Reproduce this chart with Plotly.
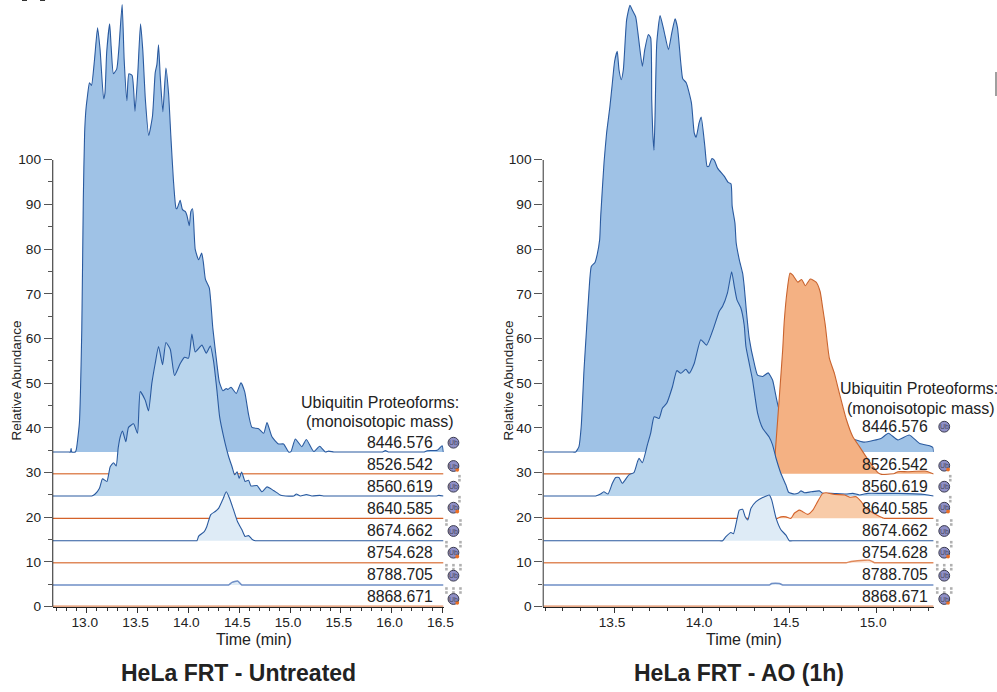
import plotly.graph_objects as go

W, H = 997, 692
PAGE_W, PAGE_H = 1008, 700
FONT = "Liberation Sans"
BLUE = "#2a5a9f"
ORANGE = "#d4622a"

# ---------- Untreated panel (time in min, offset relative abundance) ----------
L_8446_T = [12.647,12.8,12.822,12.828,12.834,12.87,12.88,12.91,12.934,12.949,12.962,12.975,12.99,13.01,13.03,13.06,13.09,13.115,13.15,13.163,13.18,13.21,13.224,13.247,13.28,13.3,13.333,13.353,13.38,13.4,13.432,13.46,13.488,13.515,13.537,13.563,13.596,13.633,13.66,13.677,13.693,13.71,13.736,13.766,13.792,13.815,13.84,13.865,13.875,13.907,13.93,13.957,13.974,13.997,14.013,14.03,14.056,14.09,14.12,14.137,14.157,14.195,14.23,14.27,14.294,14.33,14.363,14.38,14.41,14.462,14.508,14.545,14.584,14.617,14.683,14.733,14.766,14.815,14.88,14.93,14.98,15.003,15.046,15.11,15.155,15.228,15.287,15.343,15.376,15.426,15.46,15.87,15.904,15.937,15.97,16.0,16.29,16.317,16.35,16.449,16.498,16.51]
L_8446_Y = [34.6,34.6,34.6,35.4,34.6,34.6,35.2,41,62,91,106,111.2,114.2,117.2,116.6,122.4,129.5,124.6,113.6,114.8,123.9,130.4,125.4,119.2,120.3,124.6,134.7,122.4,113.2,119.2,118.8,110.8,119.4,130.4,124.6,113.4,105.4,109.7,119.4,121.3,125.7,118.6,110.7,120.5,114.9,105.2,95.5,89.2,89,90.9,88.8,88.4,87.5,85.2,88.4,89,79.9,77.6,79.1,76.9,73.2,71.3,62.3,54.4,50.3,48.3,48.8,48.6,49.1,47.7,50.1,48.1,42.9,40.1,39.8,38.8,41.2,38,36.4,36.4,34.6,34.7,37.5,35.8,37.4,34.7,35.9,34.6,34.8,34.6,34.6,34.6,34.6,34.9,34.6,34.6,34.6,34.6,34.9,35,36,34.6]
L_8560_T = [12.647,13.0,13.033,13.066,13.109,13.139,13.182,13.215,13.248,13.274,13.294,13.314,13.337,13.37,13.396,13.446,13.485,13.512,13.561,13.594,13.627,13.66,13.693,13.733,13.766,13.809,13.851,13.908,13.95,13.99,14.023,14.056,14.122,14.165,14.205,14.238,14.27,14.297,14.337,14.386,14.42,14.446,14.47,14.49,14.515,14.55,14.584,14.607,14.667,14.716,14.766,14.83,14.896,14.93,15.03,15.056,15.096,15.155,15.21,15.287,15.33,15.36,16.41,16.44,16.465,16.51]
L_8560_Y = [24.76,24.76,24.76,25.2,26.5,28.6,28,31.3,32.2,31.5,35.5,38,39.3,36.9,40.1,40.9,38.8,48.1,46.2,43.8,50,54.4,58.2,54.1,59.1,57.6,51.7,54.4,55.8,55.6,61,57,58.5,56.7,58.3,54.8,48.5,42.5,38,33.6,31.3,29.5,30.2,28.7,30.1,28,28.3,27,27.1,25.7,26.8,26,25,24.8,24.76,25.2,24.76,25.1,24.76,24.9,24.76,24.76,24.76,24.76,24.9,24.76]
L_8674_T = [12.647,14.04,14.073,14.09,14.145,14.17,14.21,14.254,14.287,14.327,14.363,14.396,14.436,14.475,14.518,14.55,14.584,14.617,14.65,14.68,16.51]
L_8674_Y = [14.76,14.76,14.76,15.8,16.8,17.9,20.6,21.3,22,23.9,25.7,24.2,21.6,19,17.2,15.7,15.9,15.1,14.76,14.76,14.76]
L_8788_T = [12.647,14.36,14.386,14.42,14.475,14.518,14.55,16.51]
L_8788_Y = [4.85,4.85,4.85,5.45,5.75,4.85,4.85,4.85]
L_FLAT_T = [12.647,16.51]

# ---------- AO (1h) panel ----------
R_8446_T = [13.088,13.25,13.274,13.293,13.306,13.322,13.337,13.35,13.364,13.385,13.398,13.412,13.418,13.437,13.452,13.471,13.485,13.498,13.513,13.523,13.536,13.548,13.567,13.586,13.6,13.619,13.632,13.657,13.671,13.692,13.705,13.711,13.717,13.724,13.73,13.74,13.759,13.782,13.807,13.826,13.845,13.859,13.878,13.889,13.909,13.939,13.955,13.966,13.983,13.995,14.016,14.029,14.039,14.056,14.07,14.089,14.127,14.15,14.166,14.173,14.189,14.196,14.214,14.233,14.242,14.254,14.271,14.3,14.319,14.348,14.38,14.405,14.444,14.5,14.6,14.7,14.8,14.885,14.933,15.03,15.07,15.125,15.19,15.25,15.307,15.326,15.33]
R_8446_Y = [34.6,34.6,34.6,35.8,40.3,52.9,62.3,70.2,76.1,77,78.8,82.1,87.3,99.3,106,111.9,117.2,122,124.2,120.1,117.9,120.1,131.3,134.5,133.4,131.9,128.3,120.9,124.6,128,127.2,113.4,106,102.1,109.7,126.1,132.2,128.7,124.6,128.3,131.5,129.5,121.6,118.1,117.2,112.7,106,105,108.2,109.5,103,98.5,98.5,100.2,99.9,98.1,96.3,94.9,94.6,89.6,85.8,81.4,77.6,74.6,71.7,66.4,60,54.4,51.8,51.5,52.3,50.7,44,42,40,39,38,37.3,36.8,37.7,38.8,37.3,38.4,36.5,36,35.6,34.6]
R_8526_T = [13.088,14.38,14.41,14.42,14.444,14.463,14.472,14.488,14.505,14.52,14.55,14.572,14.593,14.622,14.655,14.678,14.693,14.707,14.731,14.76,14.789,14.827,14.866,14.904,14.962,15.01,15.03,15.105,15.125,15.18,15.28,15.33]
R_8526_Y = [29.7,29.7,29.7,34.3,47,57.4,63.8,70.5,74.6,74.2,72.6,73.2,71.8,73.3,72.6,70.5,66.8,63.2,55.6,52.2,47.7,42.1,38,35.8,32.4,30,29.6,29.8,30.2,30.2,30.35,29.7]
R_8560_T = [13.088,13.36,13.389,13.417,13.436,13.46,13.485,13.504,13.523,13.542,13.58,13.609,13.629,13.638,13.657,13.686,13.705,13.725,13.753,13.772,13.797,13.83,13.855,13.878,13.907,13.926,13.955,13.993,14.026,14.066,14.099,14.118,14.146,14.17,14.185,14.2,14.223,14.242,14.252,14.271,14.29,14.319,14.348,14.386,14.405,14.425,14.453,14.482,14.497,14.53,14.55,14.568,14.588,14.626,14.674,14.693,14.741,14.827,14.866,14.904,14.952,15.03,15.125,15.28,15.33]
R_8560_Y = [24.76,24.76,24.76,25.2,25.7,25.2,27.6,28.9,28.9,27.6,29.5,30,32.4,33.2,32.2,36.2,38.8,42.5,42.1,44.4,45.5,49.2,52.8,52.2,53.1,52.2,54.4,59.7,58.5,62.3,66.1,67.2,70.2,74.9,71.7,68.7,66.8,63,58.2,54.4,50.7,43.3,39.9,37.9,36.2,33.2,29.8,27.2,25.6,25.2,25.35,25.9,25.5,25.7,25.9,25.35,25.35,25.2,25.35,25,25.35,25.35,25.35,25.1,24.76]
R_8640_T = [13.088,14.41,14.434,14.453,14.482,14.51,14.53,14.559,14.578,14.607,14.636,14.664,14.693,14.712,14.76,14.818,14.847,14.885,14.914,14.943,14.98,15.02,15.048,15.07,15.33]
R_8640_Y = [19.76,19.76,19.76,20.1,20.1,19.76,20.9,21.6,21.25,20.65,21.6,23.5,25.35,25.5,25.1,25,24.5,24.6,23.5,22,21,20.2,19.76,19.76,19.76]
R_8674_T = [13.088,14.09,14.118,14.137,14.166,14.18,14.2,14.214,14.233,14.248,14.263,14.281,14.31,14.348,14.386,14.4,14.425,14.453,14.482,14.501,14.53,15.33]
R_8674_Y = [14.76,14.76,14.76,15.66,16.6,16.3,19.4,21.6,21.8,20.1,19.4,22,23.5,24.4,25,23.9,19.8,17.2,16,14.76,14.76,14.76]
R_8754_T = [13.088,14.8,14.827,14.856,14.933,14.962,14.99,15.02,15.33]
R_8754_Y = [9.84,9.84,9.84,10.1,10.4,10.4,9.84,9.84,9.84]
R_8788_T = [13.088,14.36,14.386,14.4,14.444,14.463,14.49,15.33]
R_8788_Y = [4.85,4.85,4.85,5.2,5.2,4.85,4.85,4.85]
R_FLAT_T = [13.088,15.33]

# Baselines and shared labels
BASE = {"8446.576":34.6,"8526.542":29.75,"8560.619":24.76,"8640.585":19.76,"8674.662":14.76,"8754.628":9.84,"8788.705":4.85,"8868.671":0.05}
MASSES = list(BASE)
Y_MAJOR = [0,10,20,30,40,50,60,70,80,90,100]
Y_MINOR = [5,15,25,35,45,55,65,75,85,95]
L_XTICKS = [13.0,13.5,14.0,14.5,15.0,15.5,16.0,16.5]
R_XTICKS = [13.5,14.0,14.5,15.0]

fig = go.Figure()

def recal_left(t):
    # left-panel times were read with the 13.0 tick 1.7 px too far right
    return [13 + (5 + 303 * (v - 13)) / 304.5 for v in t]

def series(t, y, mass, color, width, fill, ax):
    b = BASE[mass]
    xa, ya = ("x","y") if ax == 1 else ("x2","y2")
    if ax == 1:
        t = recal_left(t)
    fig.add_trace(go.Scatter(x=t, y=[b]*len(t), mode="lines", line=dict(width=0), xaxis=xa, yaxis=ya,
                             hoverinfo="skip", showlegend=False, cliponaxis=False))
    fig.add_trace(go.Scatter(x=t, y=y, mode="lines", line=dict(color=color, width=width, shape="spline", smoothing=0.5),
                             xaxis=xa, yaxis=ya,
                             fill="tonexty", fillcolor=fill, name=mass, showlegend=False, cliponaxis=False))

PALE_O, STRONG_O = "#e08a5c", ORANGE
series(L_8446_T, L_8446_Y, "8446.576", BLUE, 1.1, "#9fc2e6", 1)
series(L_FLAT_T, [BASE["8526.542"]]*2, "8526.542", PALE_O, 1.4, "#f4b183", 1)
series(L_8560_T, L_8560_Y, "8560.619", BLUE, 1.1, "#b9d5ed", 1)
series(L_FLAT_T, [BASE["8640.585"]]*2, "8640.585", STRONG_O, 1.2, "#f8cba8", 1)
series(L_8674_T, L_8674_Y, "8674.662", BLUE, 1.1, "#deebf6", 1)
series(L_FLAT_T, [BASE["8754.628"]]*2, "8754.628", PALE_O, 1.4, "#fbe4d5", 1)
series(L_8788_T, L_8788_Y, "8788.705", "#6f8fc6", 1.5, "#deebf6", 1)
series(L_FLAT_T, [BASE["8868.671"]]*2, "8868.671", PALE_O, 1.8, "#fbe4d5", 1)

series(R_8446_T, R_8446_Y, "8446.576", BLUE, 1.1, "#9fc2e6", 2)
series(R_8526_T, R_8526_Y, "8526.542", "#c9642f", 1.1, "#f4b183", 2)
series(R_8560_T, R_8560_Y, "8560.619", BLUE, 1.1, "#b9d5ed", 2)
series(R_8640_T, R_8640_Y, "8640.585", STRONG_O, 1.1, "#f8cba8", 2)
series(R_8674_T, R_8674_Y, "8674.662", BLUE, 1.1, "#deebf6", 2)
series(R_8754_T, R_8754_Y, "8754.628", PALE_O, 1.4, "#fbe4d5", 2)
series(R_8788_T, R_8788_Y, "8788.705", "#6f8fc6", 1.5, "#deebf6", 2)
series(R_FLAT_T, [BASE["8868.671"]]*2, "8868.671", PALE_O, 1.8, "#fbe4d5", 2)

def px(v): return v / W
def py(v): return 1 - v / H

def label(x, y, text, size, color="#222222", anchor="center", bold=False, angle=0):
    fig.add_annotation(x=px(x), y=py(y), xref="paper", yref="paper", text=f"<b>{text}</b>" if bold else text,
                       showarrow=False, xanchor=anchor, yanchor="middle", textangle=angle,
                       font=dict(family=FONT, size=size, color=color))

def circ(x, y, r, fill, line="rgba(0,0,0,0)", lw=0):
    fig.add_shape(type="circle", xref="paper", yref="paper", x0=px(x-r), x1=px(x+r), y0=py(y+r), y1=py(y-r),
                  fillcolor=fill, line=dict(color=line, width=lw), layer="above")

def square(x, y, r=1.3):
    fig.add_shape(type="rect", xref="paper", yref="paper", x0=px(x-r), x1=px(x+r), y0=py(y+r), y1=py(y-r),
                  fillcolor="#b0b0b0", line=dict(width=0), layer="above")

def seg(x0, y0, x1, y1, color, w=1):
    fig.add_shape(type="line", xref="paper", yref="paper", x0=px(x0), x1=px(x1), y0=py(y0), y1=py(y1),
                  line=dict(color=color, width=w), layer="above")

def icon(x, y, orange, branches):
    for dx in branches:
        square(x+dx, y-6.5)
        square(x+dx, y-10.5)
    circ(x, y, 5.4, "#8f8fc6", "#3c3c50", 1)
    label(x, y, "Ub", 7, "#4a4a60")
    if orange:
        circ(x+3.8, y+3.8, 1.9, "#ec6f24")

TEXT_Y = [442.7,464.7,486.7,508.7,530.7,552.7,574.7,596.7]
TEXT_YR = [426.7,464.7,486.7,508.7,530.7,552.7,574.7,596.7]
ICON_Y = [442.7,466,486.7,507.7,531,552.7,575.7,599]
ICON_YR = [426.7,465.7,486.7,507.7,531,552.7,575.7,599]
ORANGE_DOT = [False,True,False,True,False,True,False,True]
BRANCHES = [[],[],[6],[6],[-7,7],[-7,7],[-7,0,7],[-7,0,7]]

for i, m in enumerate(MASSES):
    label(435, TEXT_Y[i], m, 15.8, anchor="right")
    icon(453, ICON_Y[i], ORANGE_DOT[i], BRANCHES[i])
    label(929, TEXT_YR[i], m, 15.8, anchor="right")
    icon(943.3, ICON_YR[i], ORANGE_DOT[i], BRANCHES[i])

label(379.5, 402, "Ubiquitin Proteoforms:", 16)
label(380, 421.7, "(monoisotopic mass)", 16)
label(918, 388.3, "Ubiquitin Proteoforms:", 16)
label(920, 408.3, "(monoisotopic mass)", 16)
label(253.5, 639, "Time (min)", 16)
label(742.8, 639, "Time (min)", 16)
label(238, 672.7, "HeLa FRT - Untreated", 23, bold=True)
label(738.7, 672.7, "HeLa FRT - AO (1h)", 23, bold=True)
label(15.5, 381, "Relative Abundance", 13.5, angle=-90)
label(507, 381, "Relative Abundance", 13.5, angle=-90)

# y axis spines (only 0-100), and picture crop residue
seg(52.7, 160, 52.7, 607, "#222222", 1)
seg(542.7, 160, 542.7, 607, "#555555", 1.2)
seg(995, 72, 995, 96, "#777777", 1.4)
seg(22, 0.4, 27, 0.4, "#333333", 1.2)
seg(40, 0.4, 45, 0.4, "#333333", 1.2)

def yax(anchor):
    return dict(domain=[py(606.7), 1], range=[0, 135.7], anchor=anchor, showgrid=False, zeroline=False, showline=False,
                tickmode="array", tickvals=Y_MAJOR, ticks="outside", ticklen=8, tickwidth=1, tickcolor="#555555",
                tickfont=dict(family=FONT, size=13.7, color="#222222"), ticklabelstandoff=0,
                minor=dict(tickmode="array", tickvals=Y_MINOR, ticks="outside", ticklen=4, tickwidth=1, tickcolor="#555555"))

def xax(domain, rng, vals, anchor, shift):
    return dict(domain=domain, range=rng, anchor=anchor, showgrid=False, zeroline=False, showline=True, linecolor="#222222", linewidth=1,
                tickmode="array", tickvals=vals, tickformat=".1f", ticks="outside", ticklen=5, tickwidth=1, tickcolor="#333333",
                tickfont=dict(family=FONT, size=13.7, color="#222222"), ticklabelshift=shift, ticklabelstandoff=-2,
                minor=dict(dtick=0.1, ticks="outside", ticklen=3, tickwidth=1, tickcolor="#333333"))

fig.update_layout(
    width=PAGE_W, height=PAGE_H, margin=dict(l=0, r=0, t=0, b=0, pad=0), paper_bgcolor="white", plot_bgcolor="white",
    showlegend=False,
    xaxis=xax([px(52.7), px(443.3)], [12.665, 16.513], L_XTICKS, "y", -2),
    yaxis=yax("x"),
    xaxis2=xax([px(542.7), px(932.7)], [13.088, 15.33], R_XTICKS, "y2", -3),
    yaxis2=yax("x2"),
)
fig.write_html("out.html", config=dict(displayModeBar=False),
               post_script="document.documentElement.style.margin='0';document.documentElement.style.overflow='hidden';document.body.style.margin='0';document.body.style.overflow='hidden';")
